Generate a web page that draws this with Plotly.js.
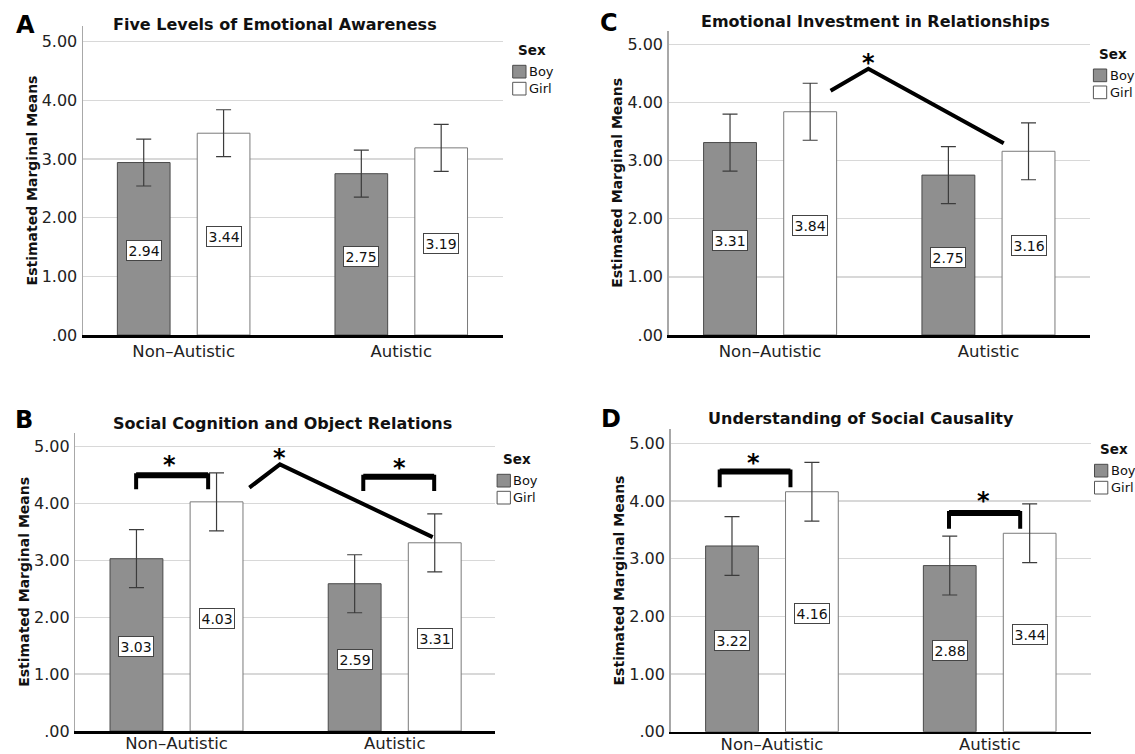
<!DOCTYPE html>
<html><head><meta charset="utf-8">
<script src="https://cdn.plot.ly/plotly-3.0.1.min.js"></script>
<style>html,body{margin:0;padding:0;background:#fff}#chart{width:1135px;height:754px}</style>
</head><body><div id="chart"></div>
<script>
// ---------------- data ----------------
const categories = ['Non\u2013Autistic', 'Autistic'];
const seriesNames = ['Boy', 'Girl'];
const legendTitle = 'Sex';
const yAxisTitle = 'Estimated Marginal Means';
const yTickVals = [0, 1, 2, 3, 4, 5];
const yTickText = ['.00', '1.00', '2.00', '3.00', '4.00', '5.00'];

const panelLetters = ['A', 'C', 'B', 'D'];
const panelTitles = ['Five Levels of Emotional Awareness', 'Emotional Investment in Relationships',
                     'Social Cognition and Object Relations', 'Understanding of Social Causality'];

const boyA = [2.94, 2.75];  const girlA = [3.44, 3.19];
const errBoyA = [0.40, 0.40]; const errGirlA = [0.40, 0.40];
const boyC = [3.31, 2.75];  const girlC = [3.84, 3.16];
const errBoyC = [0.49, 0.49]; const errGirlC = [0.49, 0.49];
const boyB = [3.03, 2.59];  const girlB = [4.03, 3.31];
const errBoyB = [0.51, 0.51]; const errGirlB = [0.51, 0.51];
const boyD = [3.22, 2.88];  const girlD = [4.16, 3.44];
const errBoyD = [0.51, 0.51]; const errGirlD = [0.51, 0.51];

// ---------------- layout helpers ----------------
const W = 1135, H = 754;
const FONT = 'DejaVu Sans';
const px = x => x / W, py = y => 1 - y / H;
const BARGAP = 0.266, BARGROUPGAP = 0.34;
const slot = (1 - BARGAP) / 2, off = slot / 2;

const panels = [
  {boy: boyA, girl: girlA, eb: errBoyA, eg: errGirlA, L: 82.9, R: 502.9, B: 335, T: 26, y5: 41.7,
   c0: 183.65, u: 217.6, letter: [25.5, 25], title: [274.5, 24], legend: [512.7, 65.3], xlabShift: 0, sig: null},
  {boy: boyC, girl: girlC, eb: errBoyC, eg: errGirlC, L: 668.6, R: 1089.7, B: 335, T: 30.7, y5: 44.3,
   c0: 770.1, u: 218.35, letter: [609.4, 23], title: [875.2, 21], legend: [1093.4, 69], xlabShift: 0,
   sig: {lines: [[[0.277, 4.20], [0.45, 4.58], [1.07, 3.30]]], stars: [[0.45, 4.79]], brackets: []}},
  {boy: boyB, girl: girlB, eb: errBoyB, eg: errGirlB, L: 75.3, R: 495.3, B: 731, T: 432.7, y5: 446.7,
   c0: 176.5, u: 218.2, letter: [24.4, 420], title: [282.2, 423], legend: [497.1, 474.3], xlabShift: -4,
   sig: {lines: [[[0.334, 4.28], [0.474, 4.69], [1.174, 3.41]]],
         stars: [[0.474, 4.91], [-0.034, 4.79], [1.021, 4.73]],
         brackets: [[-0.185, 0.145, 4.50, 4.25], [0.856, 1.181, 4.47, 4.22]]}},
  {boy: boyD, girl: girlD, eb: errBoyD, eg: errGirlD, L: 670.5, R: 1091.2, B: 731.7, T: 429.3, y5: 443.3,
   c0: 771.95, u: 217.75, letter: [610.5, 419], title: [861.4, 418], legend: [1094.5, 464.3], xlabShift: -4,
   sig: {lines: [], stars: [[-0.085, 4.76], [0.973, 4.11]],
         brackets: [[-0.24, 0.085, 4.51, 4.24], [0.813, 1.14, 3.79, 3.52]]}}
];

const traces = [], annotations = [], shapes = [];
const layout = {
  width: W, height: H, margin: {l: 0, r: 0, t: 0, b: 0},
  paper_bgcolor: '#fff', plot_bgcolor: '#fff', showlegend: false,
  barmode: 'group', bargap: BARGAP, bargroupgap: BARGROUPGAP,
  font: {family: FONT, color: '#000'}
};

panels.forEach((p, i) => {
  const n = i === 0 ? '' : String(i + 1);
  const xa = 'x' + n, ya = 'y' + n;
  const rangeTop = 5 * (p.B - p.T) / (p.B - p.y5);
  layout['xaxis' + n] = {
    domain: [px(p.L), px(p.R)], anchor: ya, type: 'category',
    range: [(p.L - p.c0) / p.u, (p.R - p.c0) / p.u],
    showgrid: false, zeroline: false, showline: true, linecolor: '#000', linewidth: 2.6,
    ticks: '', ticklabelstandoff: p.xlabShift,
    tickfont: {family: FONT, size: 16.5, color: '#222'}, fixedrange: true
  };
  layout['yaxis' + n] = {
    domain: [py(p.B), py(p.T)], anchor: xa, range: [0, rangeTop],
    tickvals: yTickVals, ticktext: yTickText, ticks: '', ticklabelstandoff: 1,
    tickfont: {family: FONT, size: 16, color: '#222'},
    showgrid: true, gridcolor: '#d8d8d8', gridwidth: 1.3, zeroline: false,
    showline: true, linecolor: '#a8a8a8', linewidth: 1.4, fixedrange: true,
    title: {text: yAxisTitle, font: {family: FONT, size: 14, weight: 'bold', color: '#111'}}
  };
  traces.push({
    type: 'bar', name: seriesNames[0], x: categories, y: p.boy, xaxis: xa, yaxis: ya,
    marker: {color: '#8f8f8f', line: {color: '#4a4a4a', width: 1}},
    error_y: {type: 'data', array: p.eb, color: '#3c3c3c', thickness: 1.2, width: 7.5},
    hoverinfo: 'skip'
  });
  traces.push({
    type: 'bar', name: seriesNames[1], x: categories, y: p.girl, xaxis: xa, yaxis: ya,
    marker: {color: '#ffffff', line: {color: '#7a7a7a', width: 1}},
    error_y: {type: 'data', array: p.eg, color: '#3c3c3c', thickness: 1.2, width: 7.5},
    hoverinfo: 'skip'
  });
  // value boxes
  [p.boy, p.girl].forEach((vals, s) => {
    vals.forEach((v, k) => {
      annotations.push({
        xref: xa, yref: ya, x: k + (s === 0 ? -off : off), y: v / 2, yshift: -2,
        text: v.toFixed(2), showarrow: false,
        font: {family: FONT, size: 14, color: '#111'},
        bgcolor: '#fff', bordercolor: '#444', borderwidth: 1, borderpad: 1.5
      });
    });
  });
  // panel letter and title
  annotations.push({xref: 'paper', yref: 'paper', x: px(p.letter[0]), y: py(p.letter[1]),
    text: panelLetters[i], showarrow: false, xanchor: 'center', yanchor: 'middle',
    font: {family: FONT, size: 24, weight: 'bold', color: '#000'}});
  annotations.push({xref: 'paper', yref: 'paper', x: px(p.title[0]), y: py(p.title[1]),
    text: panelTitles[i], showarrow: false, xanchor: 'center', yanchor: 'middle',
    font: {family: FONT, size: 16, weight: 'bold', color: '#111'}});
  // legend (drawn)
  const [lx, ly] = p.legend;
  annotations.push({xref: 'paper', yref: 'paper', x: px(lx + 19.5), y: py(ly - 15.5),
    text: legendTitle, showarrow: false, xanchor: 'center', yanchor: 'middle',
    font: {family: FONT, size: 13.5, weight: 'bold', color: '#111'}});
  const legendFill = ['#8f8f8f', '#ffffff'], legendLine = ['#4a4a4a', '#555'];
  seriesNames.forEach((nm, s) => {
    const y0 = ly + s * 17;
    shapes.push({type: 'rect', xref: 'paper', yref: 'paper', x0: px(lx), x1: px(lx + 13.3),
      y0: py(y0), y1: py(y0 + 12.7), fillcolor: legendFill[s], line: {color: legendLine[s], width: 1}});
    annotations.push({xref: 'paper', yref: 'paper', x: px(lx + 14.3), y: py(y0 + 6.5),
      text: nm, showarrow: false, xanchor: 'left', yanchor: 'middle',
      font: {family: FONT, size: 13, color: '#111'}});
  });
  // significance marks
  if (p.sig) {
    p.sig.lines.forEach(pts => {
      const d = pts.map((q, j) => (j ? 'L' : 'M') + q[0] + ',' + q[1]).join(' ');
      shapes.push({type: 'path', xref: xa, yref: ya, path: d, line: {color: '#000', width: 4}});
    });
    p.sig.brackets.forEach(b => {
      const [x0, x1, yt, yb] = b;
      shapes.push({type: 'path', xref: xa, yref: ya,
        path: `M${x0},${yb} L${x0},${yt} L${x1},${yt} L${x1},${yb}`, line: {color: '#000', width: 4}});
      shapes.push({type: 'line', xref: xa, yref: ya, x0: x0, x1: x1, y0: yt, y1: yt,
        line: {color: '#000', width: 6}});
    });
    p.sig.stars.forEach(s => {
      annotations.push({xref: xa, yref: ya, x: s[0], y: s[1], yshift: -6, text: '*', showarrow: false,
        font: {family: FONT, size: 24, weight: 'bold', color: '#000'}});
    });
  }
});
layout.annotations = annotations;
layout.shapes = shapes;
Plotly.newPlot('chart', traces, layout, {staticPlot: true, displayModeBar: false});
</script></body></html>
